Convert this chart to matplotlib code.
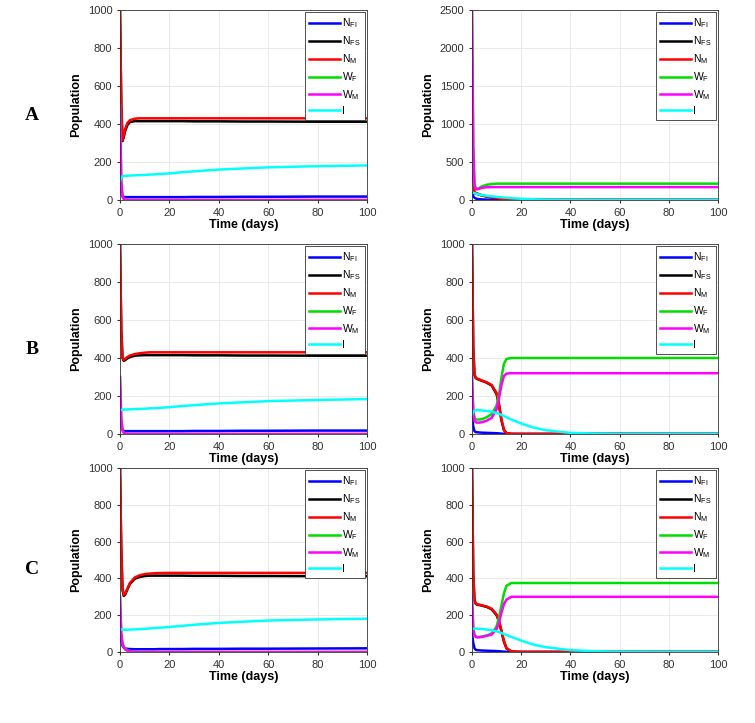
import matplotlib.pyplot as plt

labels = ['$\\mathregular{N_{FI}}$', '$\\mathregular{N_{FS}}$', '$\\mathregular{N_M}$',
          '$\\mathregular{W_F}$', '$\\mathregular{W_M}$', 'I']
colors = ['#0000ff', '#000000', '#ff0000', '#00dd00', '#ff00ff', '#00ffff']
row_labels = ['A', 'B', 'C']

t = [0, 0.5, 1, 1.5, 2, 3, 4, 6, 8, 10, 11, 12, 13, 14, 16, 20, 25, 30, 40, 50, 60, 80, 100]

# series order: NFI, NFS, NM, WF, WM, I
A_left = [
    [100, 40, 20, 16, 15, 15, 15, 15, 15, 15, 15, 15, 15, 15, 15, 15, 15, 16, 16, 17, 17, 18, 18],
    [1000, 500, 310, 330, 360, 395, 410, 415, 415, 415, 415, 415, 415, 415, 415, 415, 415, 414, 414, 413, 413, 412, 412],
    [1000, 520, 315, 340, 370, 405, 420, 428, 430, 430, 430, 430, 430, 430, 430, 430, 430, 430, 430, 430, 430, 430, 430],
    [500, 100, 20, 5, 2, 0, 0, 0, 0, 0, 0, 0, 0, 0, 0, 0, 0, 0, 0, 0, 0, 0, 0],
    [500, 100, 20, 6, 3, 1, 0, 0, 0, 0, 0, 0, 0, 0, 0, 0, 0, 0, 0, 0, 0, 0, 0],
    [100, 118, 125, 126, 127, 128, 129, 130, 131, 132, 133, 134, 134, 135, 137, 140, 146, 151, 160, 166, 172, 178, 182],
]
A_right = [
    [100, 50, 30, 20, 15, 10, 8, 5, 4, 3, 3, 2, 2, 2, 1, 1, 0, 0, 0, 0, 0, 0, 0],
    [100, 95, 90, 85, 80, 70, 60, 45, 35, 25, 22, 18, 15, 12, 8, 4, 2, 1, 0, 0, 0, 0, 0],
    [1000, 300, 110, 95, 88, 75, 62, 47, 36, 26, 22, 18, 15, 12, 8, 4, 2, 1, 0, 0, 0, 0, 0],
    [2500, 700, 200, 150, 145, 160, 180, 200, 210, 215, 215, 215, 215, 215, 215, 215, 215, 215, 215, 215, 215, 215, 215],
    [2500, 700, 200, 150, 140, 150, 160, 168, 170, 170, 170, 170, 170, 170, 170, 170, 170, 170, 170, 170, 170, 170, 170],
    [100, 95, 90, 85, 80, 72, 65, 55, 48, 42, 38, 35, 32, 30, 24, 16, 9, 5, 1, 0, 0, 0, 0],
]
B_left = [
    [100, 40, 20, 16, 15, 15, 15, 15, 15, 15, 15, 15, 15, 15, 15, 15, 15, 16, 16, 17, 17, 18, 18],
    [1000, 550, 400, 385, 388, 398, 405, 412, 414, 415, 415, 415, 415, 415, 415, 415, 415, 414, 414, 413, 413, 412, 412],
    [1000, 560, 405, 390, 395, 405, 413, 421, 425, 428, 429, 430, 430, 430, 430, 430, 430, 430, 430, 430, 430, 430, 430],
    [300, 80, 20, 6, 2, 0, 0, 0, 0, 0, 0, 0, 0, 0, 0, 0, 0, 0, 0, 0, 0, 0, 0],
    [300, 80, 20, 7, 3, 1, 0, 0, 0, 0, 0, 0, 0, 0, 0, 0, 0, 0, 0, 0, 0, 0, 0],
    [125, 127, 128, 128, 129, 129, 130, 131, 132, 133, 134, 135, 135, 136, 138, 141, 147, 152, 161, 167, 173, 179, 184],
]
B_right = [
    [100, 40, 15, 10, 9, 8, 7, 6, 5, 4, 3, 2, 1, 0, 0, 0, 0, 0, 0, 0, 0, 0, 0],
    [1000, 450, 310, 295, 290, 285, 280, 270, 255, 210, 150, 70, 20, 5, 0, 0, 0, 0, 0, 0, 0, 0, 0],
    [1000, 460, 315, 298, 292, 287, 282, 272, 258, 215, 155, 75, 22, 5, 1, 0, 0, 0, 0, 0, 0, 0, 0],
    [300, 130, 85, 78, 76, 76, 78, 88, 105, 150, 210, 300, 370, 395, 400, 400, 400, 400, 400, 400, 400, 400, 400],
    [300, 120, 70, 62, 60, 60, 62, 70, 85, 130, 190, 260, 305, 318, 320, 320, 320, 320, 320, 320, 320, 320, 320],
    [100, 115, 122, 125, 126, 125, 124, 121, 117, 110, 106, 100, 94, 88, 76, 55, 34, 20, 6, 2, 0, 0, 0],
]
C_left = [
    [100, 60, 35, 25, 20, 17, 16, 15, 15, 15, 15, 15, 15, 15, 16, 16, 16, 17, 17, 18, 18, 19, 20],
    [1000, 560, 340, 305, 310, 340, 370, 398, 408, 413, 414, 415, 415, 415, 415, 415, 415, 414, 414, 413, 413, 412, 412],
    [1000, 570, 345, 310, 315, 345, 375, 405, 417, 423, 425, 426, 427, 428, 429, 430, 430, 430, 430, 430, 430, 430, 430],
    [300, 100, 50, 30, 20, 10, 5, 2, 1, 0, 0, 0, 0, 0, 0, 0, 0, 0, 0, 0, 0, 0, 0],
    [300, 100, 45, 25, 15, 7, 3, 1, 0, 0, 0, 0, 0, 0, 0, 0, 0, 0, 0, 0, 0, 0, 0],
    [125, 122, 121, 121, 121, 121, 122, 123, 124, 126, 127, 128, 129, 130, 132, 136, 142, 148, 158, 165, 171, 177, 181],
]
C_right = [
    [100, 50, 20, 12, 10, 9, 8, 7, 6, 5, 4, 3, 2, 1, 0, 0, 0, 0, 0, 0, 0, 0, 0],
    [1000, 420, 280, 262, 258, 255, 252, 245, 232, 200, 165, 110, 55, 20, 2, 0, 0, 0, 0, 0, 0, 0, 0],
    [1000, 430, 285, 265, 260, 257, 254, 247, 235, 204, 170, 115, 60, 22, 3, 0, 0, 0, 0, 0, 0, 0, 0],
    [300, 130, 95, 85, 82, 82, 84, 90, 100, 140, 190, 255, 320, 360, 375, 375, 375, 375, 375, 375, 375, 375, 375],
    [300, 120, 90, 82, 80, 80, 82, 88, 95, 125, 160, 215, 260, 285, 300, 300, 300, 300, 300, 300, 300, 300, 300],
    [125, 126, 127, 127, 127, 126, 125, 122, 118, 112, 108, 103, 98, 92, 82, 62, 40, 26, 10, 4, 1, 0, 0],
]

panels = [(A_left, A_right, 1000, 2500), (B_left, B_right, 1000, 1000), (C_left, C_right, 1000, 1000)]

plt.rcParams['font.family'] = ['Liberation Sans', 'DejaVu Sans']
fig = plt.figure(figsize=(7.55, 7.23), dpi=100)
W, H = 755, 723
rows_px = [(10, 200), (244, 434), (468, 652)]
cols_px = [(120, 367), (472, 718)]

for r, (left, right, ymax_l, ymax_r) in enumerate(panels):
    top, bot = rows_px[r]
    for c, (series, ymax) in enumerate([(left, ymax_l), (right, ymax_r)]):
        x0, x1 = cols_px[c]
        ax = fig.add_axes([x0 / W, 1 - bot / H, (x1 - x0) / W, (bot - top) / H])
        for vals, lab, col in zip(series, labels, colors):
            ax.plot(t, vals, color=col, lw=1.8, label=lab)
        ax.set_xlim(0, 100)
        ax.set_ylim(0, ymax)
        ax.grid(True, color='#e6e6e6', lw=0.6)
        ax.set_xlabel('Time (days)', fontsize=9, fontweight='bold', labelpad=1)
        ax.set_ylabel('Population', fontsize=9, fontweight='bold')
        ax.tick_params(labelsize=8, length=2, colors='#333333')
        for s in ax.spines.values():
            s.set_color('#333333')
            s.set_linewidth(0.6)
        leg = ax.legend(loc='upper right', fontsize=7.5, handlelength=3.0, labelspacing=0.4,
                        handletextpad=0.2, fancybox=False, framealpha=1, borderaxespad=0.2)
        leg.get_frame().set_edgecolor('#333333')
        leg.get_frame().set_linewidth(0.6)
    fig.text(32 / W, 1 - ((top + bot) / 2 + 10) / H, row_labels[r], fontsize=14,
             fontweight='bold', family='Liberation Serif', ha='center', va='center')

fig.savefig('out.png', dpi=100)
